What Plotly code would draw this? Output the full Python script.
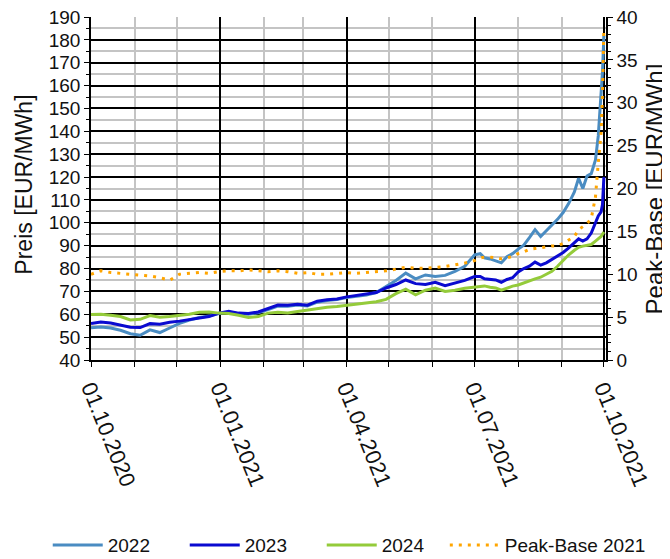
import plotly.graph_objects as go

# trading dates (approx. weekly, denser towards the end)
dates = [
    "2020-10-01", "2020-10-08", "2020-10-15", "2020-10-22", "2020-10-29",
    "2020-11-05", "2020-11-12", "2020-11-19", "2020-11-26",
    "2020-12-03", "2020-12-10", "2020-12-17", "2020-12-24", "2020-12-31",
    "2021-01-07", "2021-01-14", "2021-01-21", "2021-01-28",
    "2021-02-04", "2021-02-11", "2021-02-18", "2021-02-25",
    "2021-03-04", "2021-03-11", "2021-03-18", "2021-03-25",
    "2021-04-01", "2021-04-08", "2021-04-15", "2021-04-22", "2021-04-29",
    "2021-05-06", "2021-05-13", "2021-05-20", "2021-05-27",
    "2021-06-03", "2021-06-10", "2021-06-17", "2021-06-24",
    "2021-07-01", "2021-07-05", "2021-07-08", "2021-07-12", "2021-07-16",
    "2021-07-20", "2021-07-24", "2021-07-28",
    "2021-08-01", "2021-08-05", "2021-08-09", "2021-08-13", "2021-08-17",
    "2021-08-21", "2021-08-25", "2021-08-29",
    "2021-09-02", "2021-09-06", "2021-09-10", "2021-09-13", "2021-09-16",
    "2021-09-19", "2021-09-22", "2021-09-25", "2021-09-27", "2021-09-29",
    "2021-09-30", "2021-10-01",
]

cal_2022 = [
    54.1, 54.4, 54.0, 53.0, 51.5, 50.8, 53.2, 52.0, 54.0, 56.0,
    57.5, 58.6, 59.2, 60.3, 61.0, 60.2, 60.0, 60.7, 62.0, 63.6,
    63.5, 64.0, 63.6, 65.3, 66.0, 66.4, 67.3, 68.0, 68.4, 69.5,
    72.0, 74.8, 78.0, 75.5, 77.2, 76.5, 77.0, 78.8, 81.0, 86.0,
    86.5, 84.7, 84.2, 83.5, 82.5, 85.2, 86.5, 88.5, 90.2, 93.5,
    97.0, 94.0, 96.5, 98.8, 101.5, 104.5, 108.5, 113.5, 119.5, 115.0,
    120.5, 121.5, 127.5, 138.0, 155.0, 166.0, 182.0,
]

cal_2023 = [
    55.9, 56.6, 56.2, 55.4, 54.3, 54.2, 55.9, 55.6, 56.5, 57.0,
    57.6, 58.2, 59.0, 60.5, 61.3, 60.5, 60.3, 61.0, 62.5, 64.0,
    63.9, 64.4, 64.0, 65.7, 66.3, 66.7, 67.6, 68.3, 68.7, 69.5,
    71.5, 73.0, 75.0, 73.4, 73.0, 74.0, 72.5, 73.8, 74.8, 76.5,
    76.5, 75.5, 75.3, 75.0, 74.0, 75.2, 76.0, 78.5, 80.0, 81.0,
    82.8, 81.5, 82.5, 84.0, 85.8, 87.0, 89.0, 91.5, 93.0, 92.0,
    93.0, 95.5, 100.5, 103.0, 104.8, 108.0, 120.0,
]

cal_2024 = [
    59.9, 60.0, 59.6, 59.0, 57.5, 57.8, 59.4, 58.7, 59.0, 59.5,
    60.0, 60.9, 61.0, 60.5, 60.3, 59.6, 58.6, 59.0, 60.5, 60.9,
    60.6, 61.2, 61.8, 62.6, 63.1, 63.4, 64.0, 64.5, 65.0, 65.5,
    66.5, 69.0, 71.0, 68.5, 70.5, 71.5, 70.0, 70.5, 71.4, 72.0,
    72.3, 72.4, 71.8, 71.5, 70.5, 71.5, 72.3, 72.8, 73.8, 74.5,
    75.5, 76.2, 77.5, 78.8, 81.0, 83.5, 86.0, 88.0, 89.3, 89.8,
    90.2, 90.5, 92.0, 93.0, 94.0, 95.0, 96.0,
]

peak_base_2021 = [
    10.0, 10.4, 10.2, 10.1, 10.0, 9.9, 9.8, 9.6, 9.3, 10.0,
    10.1, 10.2, 10.1, 10.3, 10.4, 10.4, 10.5, 10.4, 10.3, 10.4,
    10.3, 10.1, 10.2, 10.0, 10.0, 10.1, 10.2, 10.1, 10.2, 10.3,
    10.4, 10.6, 10.8, 10.7, 10.7, 10.8, 10.9, 11.1, 11.3, 11.6,
    11.9, 12.0, 12.0, 11.9, 11.8, 11.9, 12.1, 12.4, 12.6, 12.9,
    13.0, 13.1, 13.2, 13.3, 13.3, 13.6, 14.0, 14.4, 15.2, 15.6,
    15.9, 16.5, 19.0, 23.0, 26.5, 31.0, 38.8,
]

quarter_ticks = ["2020-10-01", "2021-01-01", "2021-04-01", "2021-07-01", "2021-10-01"]

FONT = "Liberation Sans, Arial, sans-serif"

fig = go.Figure()
fig.add_trace(go.Scatter(x=dates, y=cal_2022, name="2022", mode="lines",
                         line=dict(color="#4a8cc2", width=3)))
fig.add_trace(go.Scatter(x=dates, y=cal_2023, name="2023", mode="lines",
                         line=dict(color="#0a0ad0", width=3)))
fig.add_trace(go.Scatter(x=dates, y=cal_2024, name="2024", mode="lines",
                         line=dict(color="#94cb3a", width=3)))
fig.add_trace(go.Scatter(x=dates, y=peak_base_2021, name="Peak-Base 2021", mode="lines",
                         yaxis="y2", legend="legend2",
                         line=dict(color="#ffa500", width=3, dash="3px,6px")))

legend_common = dict(orientation="h", xanchor="left", y=-0.54, yanchor="middle",
                     itemwidth=50, font=dict(size=19), bgcolor="rgba(0,0,0,0)")

# page body adds an 8px offset, so the figure is 8px smaller than the window
fig.update_layout(
    width=662, height=551,
    margin=dict(l=83, r=64, t=9, b=199, autoexpand=False),
    paper_bgcolor="white", plot_bgcolor="white",
    font=dict(family=FONT, size=19, color="#111111"),
    xaxis=dict(
        type="date",
        range=["2020-10-01", "2021-10-02 12:00"],
        tickvals=quarter_ticks,
        tickformat="%d.%m.%Y",
        tickangle=68,
        tickfont=dict(size=22),
        ticks="outside", ticklen=5, tickcolor="black",
        showgrid=True, gridcolor="black", gridwidth=1.5,
        showline=True, linecolor="black", linewidth=1.5,
        zeroline=False, automargin=False, ticklabeloverflow="allow",
        minor=dict(dtick="M1", tick0="2020-10-01", ticks="outside", ticklen=5,
                   tickcolor="black", showgrid=True, gridcolor="#c4c4c4", gridwidth=1.5),
    ),
    yaxis=dict(
        range=[40, 190], dtick=10,
        ticks="outside", ticklen=5, tickcolor="black",
        showgrid=True, gridcolor="black", gridwidth=1.5,
        showline=True, linecolor="black", linewidth=1.5,
        zeroline=False, automargin=False, ticklabeloverflow="allow",
        minor=dict(dtick=5, ticks="outside", ticklen=3, tickcolor="black",
                   showgrid=True, gridcolor="#c4c4c4", gridwidth=1.5),
    ),
    yaxis2=dict(
        range=[0, 40], dtick=5, overlaying="y", side="right",
        ticks="outside", ticklen=5, tickcolor="black",
        showgrid=False, zeroline=False, automargin=False, ticklabeloverflow="allow",
        showline=True, linecolor="black", linewidth=1.5,
        minor=dict(dtick=1, ticks="outside", ticklen=3, tickcolor="black"),
    ),
    showlegend=True,
    legend=dict(x=-0.084, entrywidth=72, entrywidthmode="pixels", **legend_common),
    legend2=dict(x=0.687, **legend_common),
    annotations=[
        dict(text="Preis [EUR/MWh]", textangle=-90, xref="paper", yref="paper",
             x=-0.129, y=0.51, xanchor="center", yanchor="middle", showarrow=False,
             font=dict(size=23)),
        dict(text="Peak-Base [EUR/MWh]", textangle=-90, xref="paper", yref="paper",
             x=1.095, y=0.5, xanchor="center", yanchor="middle", showarrow=False,
             font=dict(size=24)),
    ],
)

fig.write_html("out.html")
